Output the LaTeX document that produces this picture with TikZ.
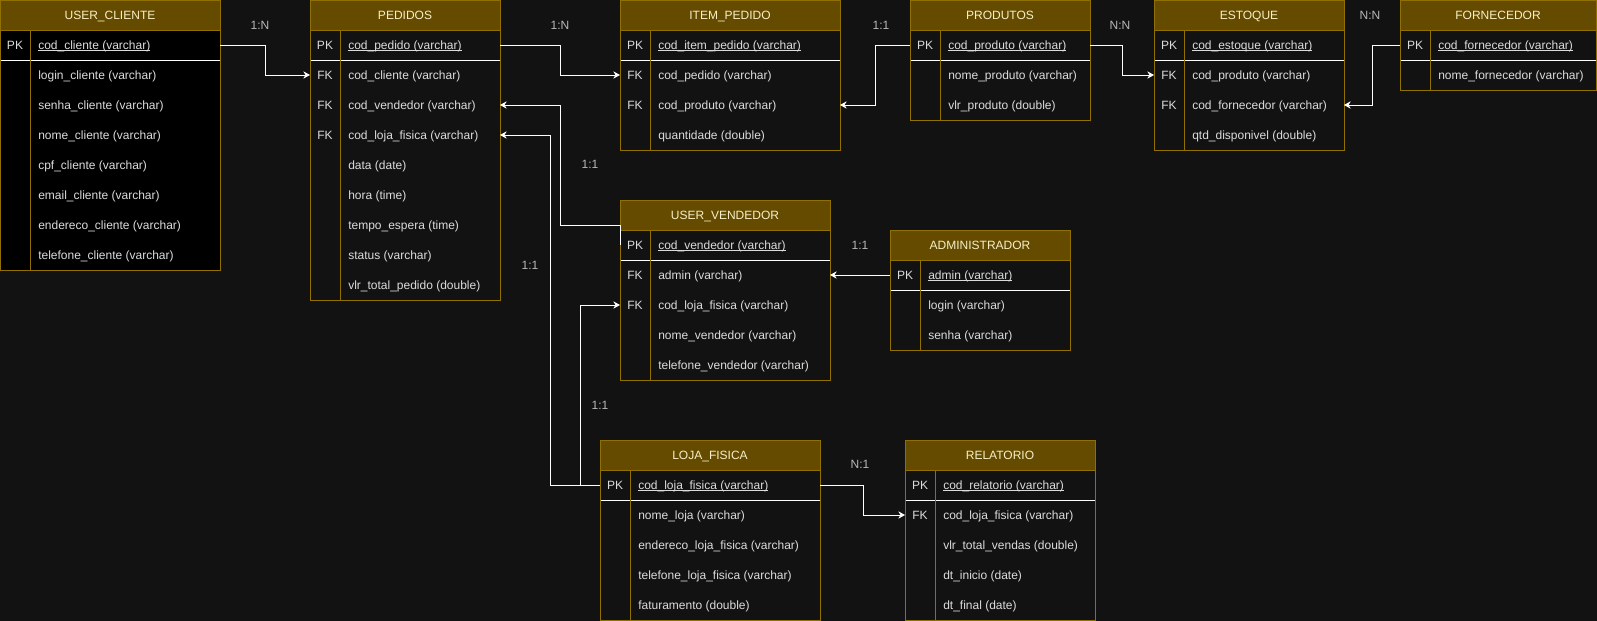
\documentclass[tikz,border=0pt]{standalone}
\usepackage{fontspec}
\setmainfont{Liberation Sans}
\usetikzlibrary{arrows.meta}
\definecolor{bgc}{HTML}{121212}
\definecolor{hdfill}{HTML}{644B00}
\definecolor{bordc}{HTML}{8F7000}
\definecolor{hdtext}{HTML}{F7EFC8}
\definecolor{bodytext}{HTML}{DCDCDC}
\definecolor{lbltext}{HTML}{B8B8B8}
\newcommand{\fs}{\fontsize{9}{11}\selectfont}
\newcommand{\pkul}[1]{\setbox0\hbox{#1}\rlap{\rule[-1.5pt]{\wd0}{0.7pt}}\box0}
\tikzset{
  rowbox/.style={inner sep=0pt,outer sep=0pt,minimum height=22.5pt,anchor=north west},
  keytxt/.style={font=\fs,text=bodytext,inner sep=0pt,anchor=base},
  fldtxt/.style={font=\fs,text=bodytext,inner sep=0pt,anchor=base west},
  hdtxt/.style={font=\fs,text=hdtext,inner sep=0pt,anchor=base},
  lbl/.style={font=\fs,text=lbltext,inner sep=0pt,anchor=base},
  bord/.style={draw=bordc,line width=0.75pt},
  sepline/.style={draw=white,line width=0.75pt},
  conn/.style={draw=white,line width=0.75pt,-{Stealth[length=5pt,width=5.5pt,inset=1.6pt]}},
}
% #1 name, #2 x, #3 y, #4 width, #5 body rows, #6 title, #7 PK field, #8 rows, #9 body fill
\newcommand{\ertable}[9]{%
  \begin{scope}[shift={(#2,#3)}]
    \fill[#9] (0,30) rectangle (#4,{60+30*#5});
    \fill[hdfill] (0,0) rectangle (#4,30);
    \node[hdtxt] (#1-h) at ({#4/2},19.3) {#6};
    \node[rowbox,minimum width={#4*0.75pt}] (#1-pk) at (0,30) {};
    \node[keytxt] at (15,49.3) {PK};
    \node[fldtxt] at (38,49.3) {\pkul{#7}};
    \foreach \kk/\ff [count=\i] in {#8} {
      \node[rowbox,minimum width={#4*0.75pt}] (#1-r\i) at (0,{30+30*\i}) {};
      \node[keytxt] at (15,{49.3+30*\i}) {\kk};
      \node[fldtxt] at (38,{49.3+30*\i}) {\ff};
    }
    \draw[sepline] (0,60) -- (#4,60);
    \draw[bord] (30,30) -- (30,{60+30*#5});
    \draw[bord] (0,30) -- (#4,30);
    \draw[bord] (0,0) rectangle (#4,{60+30*#5});
  \end{scope}
}
\begin{document}
\begin{tikzpicture}[x=0.75pt,y=-0.75pt]
\useasboundingbox (0,0) rectangle (1597,621);
\fill[bgc] (0,0) rectangle (1597,621);

\ertable{uc}{0}{0}{220}{7}{USER\_CLIENTE}{cod\_cliente (varchar)}{/login\_cliente (varchar),/senha\_cliente (varchar),/nome\_cliente (varchar),/cpf\_cliente (varchar),/email\_cliente (varchar),/endereco\_cliente (varchar),/telefone\_cliente (varchar)}{black}
\ertable{ped}{310}{0}{190}{8}{PEDIDOS}{cod\_pedido (varchar)}{FK/cod\_cliente (varchar),FK/cod\_vendedor (varchar),FK/cod\_loja\_fisica (varchar),/data (date),/hora (time),/tempo\_espera (time),/status (varchar),/vlr\_total\_pedido (double)}{bgc}
\ertable{item}{620}{0}{220}{3}{ITEM\_PEDIDO}{cod\_item\_pedido (varchar)}{FK/cod\_pedido (varchar),FK/cod\_produto (varchar),/quantidade (double)}{bgc}
\ertable{prod}{910}{0}{180}{2}{PRODUTOS}{cod\_produto (varchar)}{/nome\_produto (varchar),/vlr\_produto (double)}{bgc}
\ertable{est}{1154}{0}{190}{3}{ESTOQUE}{cod\_estoque (varchar)}{FK/cod\_produto (varchar),FK/cod\_fornecedor (varchar),/qtd\_disponivel (double)}{bgc}
\ertable{forn}{1400}{0}{196}{1}{FORNECEDOR}{cod\_fornecedor (varchar)}{/nome\_fornecedor (varchar)}{bgc}
\ertable{vend}{620}{200}{210}{4}{USER\_VENDEDOR}{cod\_vendedor (varchar)}{FK/admin (varchar),FK/cod\_loja\_fisica (varchar),/nome\_vendedor (varchar),/telefone\_vendedor (varchar)}{bgc}
\ertable{adm}{890}{230}{180}{2}{ADMINISTRADOR}{admin (varchar)}{/login (varchar),/senha (varchar)}{bgc}
\ertable{loja}{600}{440}{220}{4}{LOJA\_FISICA}{cod\_loja\_fisica (varchar)}{/nome\_loja (varchar),/endereco\_loja\_fisica (varchar),/telefone\_loja\_fisica (varchar),/faturamento (double)}{bgc}
\ertable{rel}{905}{440}{190}{4}{RELATORIO}{cod\_relatorio (varchar)}{FK/cod\_loja\_fisica (varchar),/vlr\_total\_vendas (double),/dt\_inicio (date),/dt\_final (date)}{bgc}

% cardinality labels
\node[lbl] (c1) at (260,29.3) {1:N};
\node[lbl] (c2) at (560,29.3) {1:N};
\node[lbl] (c3) at (881,29.3) {1:1};
\node[lbl] (c4) at (1120,29.3) {N:N};
\node[lbl] (c5) at (1370,19.3) {N:N};
\node[lbl] (c6) at (590,168.3) {1:1};
\node[lbl] (c7) at (860,249.3) {1:1};
\node[lbl] (c8) at (530,269.3) {1:1};
\node[lbl] (c9) at (600,409.3) {1:1};
\node[lbl] (c10) at (860,468.3) {N:1};

% connectors
\draw[conn] (uc-pk.east) -- ++(45,0) |- (ped-r1.west);
\draw[conn] (ped-pk.east) -- ++(60,0) |- (item-r1.west);
\draw[conn] (prod-pk.west) -- ++(-35,0) |- (item-r2.east);
\draw[conn] (prod-pk.east) -- ++(32,0) |- (est-r1.west);
\draw[conn] (forn-pk.west) -- ++(-28,0) |- (est-r2.east);
\draw[conn] (vend-pk.west) -- ++(0,-20) -- ++(-60,0) |- (ped-r2.east);
\draw[conn] (adm-pk.west) -- (vend-r1.east);
\draw[conn] (loja-pk.west) -- ++(-50,0) |- (ped-r3.east);
\draw[conn] (loja-pk.west) -- ++(-20,0) |- (vend-r2.west);
\draw[conn] (loja-pk.east) -- ++(43,0) |- (rel-r1.west);
\end{tikzpicture}
\end{document}
